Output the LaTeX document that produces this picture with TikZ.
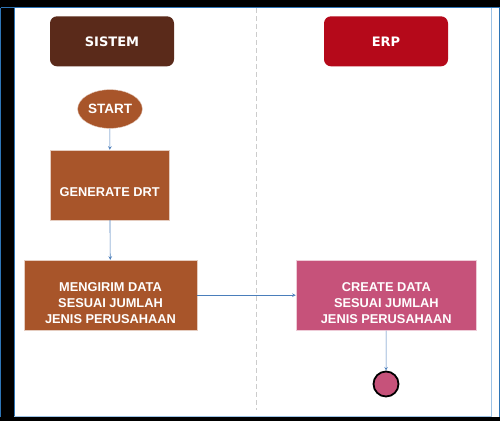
\documentclass[tikz,border=0pt]{standalone}
\usepackage{fontspec}
\setmainfont{Liberation Sans}
\newfontfamily\headfont{DejaVu Sans}
\usepackage{tikz}
\usetikzlibrary{                          % TikZ libraries
                shapes,                   % .
                arrows,                   % .
                calc}
\usepackage{xcolor}

\definecolor{sistembrown}{HTML}{5A2A1A}
\definecolor{erpred}{HTML}{B5091A}
\definecolor{taskbrown}{HTML}{A8552A}
\definecolor{taskpink}{HTML}{C6527A}
\definecolor{flowblue}{HTML}{4A7EBB}
\definecolor{frameblue}{HTML}{2E75B6}
\definecolor{lightblue}{HTML}{9DC3E6}

\begin{document}
\begin{tikzpicture}[x=1pt,y=-1pt,>=stealth
                    ]
                % define styles
\tikzset{lanehead/.style={rectangle,
                       rounded corners=7pt,
                       inner sep=0,
                       minimum width=124pt,
                       minimum height=50pt,
                       text=white,
                       font=\headfont\bfseries\fontsize{13}{15}\selectfont,
                       },
         task/.style={rectangle,
                       draw=white!70!taskbrown,
                       fill=taskbrown,
                       inner sep=0,
                       },
         tasktext/.style={align=center,
                       text=white,
                       inner sep=0,
                       font=\bfseries\fontsize{12.8}{15.8}\selectfont,
                       },
         flow/.style={->,
                       draw=flowblue,
                       line width=0.6pt,
                       }
}

% frame
\useasboundingbox (0,0) rectangle (500,421);
\fill[black] (0,0) rectangle (500,421);
\fill[white] (14,7.5) rectangle (499,417);
\draw[frameblue,line width=1pt] (0.7,7.5) -- (499.3,7.5) -- (499.3,417);
\draw[frameblue,line width=1pt] (0.7,7.5) -- (0.7,417);
\draw[frameblue,line width=1pt] (14,7.5) -- (14,417);
\draw[lightblue,line width=1pt] (14,416.7) -- (491.5,416.7);
\draw[lightblue,line width=1pt] (491.5,7.5) -- (491.5,417);

% lane separator
\draw[black!20,line width=1pt,dash pattern=on 5pt off 3pt] (256.7,8) -- (256.7,410);

% nodes
\node[lanehead,fill=sistembrown] (sistem) at (112,41.3) {SISTEM};
\node[lanehead,fill=erpred]      (erp)    at (386,41.3) {ERP};

\node[ellipse,fill=taskbrown,draw=white!70!taskbrown,inner sep=0,
      minimum width=64.7pt,minimum height=38.7pt,text=white,
      font=\bfseries\fontsize{13.5}{16}\selectfont] (start) at (110,109) {START};

\node[task,minimum width=119.3pt,minimum height=70pt,
      label={[tasktext,yshift=-7pt]center:GENERATE DRT}] (gen) at (109.7,185) {};
\node[task,minimum width=172.4pt,minimum height=70.3pt,
      label={[tasktext,yshift=-8pt]center:{MENGIRIM DATA\\SESUAI JUMLAH\\JENIS PERUSAHAAN}}]
      (kirim) at (110.5,295.2) {};
\node[task,fill=taskpink,draw=white!70!taskpink,
      minimum width=180.7pt,minimum height=70.3pt,
      label={[tasktext,yshift=-8pt]center:{CREATE DATA\\SESUAI JUMLAH\\JENIS PERUSAHAAN}}]
      (create) at (386.3,295.2) {};

\node[circle,fill=taskpink,draw=black,line width=1.8pt,inner sep=0,
      minimum size=25pt] (stop) at (386,384) {};

% connectors
\draw[flow] (start) -- (gen);
\draw[flow] (gen) -- (kirim);
\draw[flow] (kirim) -- (create);
\draw[flow] (create) -- (stop);

\end{tikzpicture}
\end{document}
